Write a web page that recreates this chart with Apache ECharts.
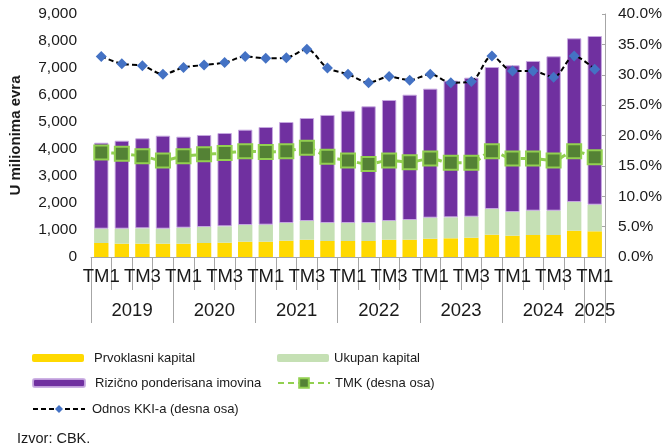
<!DOCTYPE html>
<html>
<head>
<meta charset="utf-8">
<script src="https://cdn.jsdelivr.net/npm/echarts@6/dist/echarts.min.js"></script>
<style>
  html, body { margin: 0; padding: 0; background: #fff; }
  #chart { width: 670px; height: 446px; }
</style>
</head>
<body>
<div id="chart"></div>
<script>
// Quarters 2019 TM1 .. 2025 TM1
const years = ['2019', '2020', '2021', '2022', '2023', '2024', '2025'];
const quartersPerYear = [4, 4, 4, 4, 4, 4, 1];
const quarterNames = ['TM1', 'TM2', 'TM3', 'TM4'];

// Stacked bar segments (millions of euro)
const prvoklasniKapital = [519, 493, 493, 493, 493, 519, 530, 567, 567, 604, 641, 593, 593,
  593, 641, 641, 678, 693, 715, 826, 789, 815, 815, 974, 952];
const ukupanKapital = [530, 556, 569, 556, 593, 592, 606, 618, 631, 655, 692, 666, 666,
  666, 692, 729, 779, 776, 779, 952, 878, 901, 901, 1063, 986];
const rizicnoPonderisana = [3184, 3259, 3334, 3445, 3371, 3408, 3457, 3531, 3617, 3741, 3815, 4001, 4161,
  4321, 4482, 4642, 4778, 5062, 5148, 5259, 5433, 5544, 5717, 6063, 6247];

// Ratios on the right axis (%)
const tmk = [17.2, 17.0, 16.6, 15.9, 16.6, 16.9, 17.1, 17.4, 17.3, 17.4, 18.0, 16.5, 15.9,
  15.3, 15.9, 15.6, 16.2, 15.5, 15.5, 17.4, 16.2, 16.2, 15.9, 17.4, 16.4];
const odnosKKI = [33.0, 31.8, 31.5, 30.1, 31.2, 31.6, 32.0, 33.0, 32.7, 32.8, 34.2, 31.1, 30.1,
  28.7, 29.7, 29.1, 30.1, 28.7, 28.9, 33.1, 30.6, 30.6, 29.6, 33.1, 30.9];

// Category labels built from the year/quarter lists
const categories = [];
quartersPerYear.forEach(n => { for (let q = 0; q < n; q++) categories.push(quarterNames[q]); });

// Year boundaries and label centres along a 0..N value scale
const yearBounds = [0];
quartersPerYear.forEach(n => yearBounds.push(yearBounds[yearBounds.length - 1] + n));
const yearCentres = years.map((y, i) => (yearBounds[i] + yearBounds[i + 1]) / 2);

const axisGray = '#a6a6a6';
const txt = '#1a1a1a';
const base = 'Liberation Sans, Arial, sans-serif';

const chart = echarts.init(document.getElementById('chart'));

function legendAt(name, left, centerY, w, h, textGap) {
  return {
    data: [name], left: left, top: centerY - 9, padding: 0,
    itemWidth: w, itemHeight: h, itemGap: 0,
    textStyle: { fontFamily: base, fontSize: 13, color: txt, lineHeight: 18, padding: [0, 0, 0, textGap] }
  };
}

chart.setOption({
  animation: false,
  textStyle: { fontFamily: base },
  grid: { left: 86, right: 65, top: 14, bottom: 189, containLabel: false },
  legend: [
    legendAt('Prvoklasni kapital', 32, 358, 52, 8, 5),
    legendAt('Ukupan kapital', 277, 358, 52, 8, 0),
    legendAt('Rizično ponderisana imovina', 32, 383, 52, 8, 5),
    legendAt('TMK (desna osa)', 277, 383, 52, 12, 0),
    legendAt('Odnos KKI-a (desna osa)', 32, 409, 52, 10, 2)
  ],
  xAxis: [
    {
      type: 'category', data: categories, boundaryGap: true, position: 'bottom',
      axisLine: { show: true, lineStyle: { color: axisGray, width: 1 } },
      axisTick: { show: true, interval: 0, length: 33, lineStyle: { color: axisGray } },
      axisLabel: { interval: 1, margin: 10, fontSize: 18.5, color: txt, fontFamily: base }
    },
    {
      type: 'value', min: 0, max: yearBounds[yearBounds.length - 1], position: 'bottom',
      axisLine: { show: false },
      splitLine: { show: false },
      axisTick: { show: true, length: 66, customValues: yearBounds, lineStyle: { color: axisGray } },
      axisLabel: {
        customValues: yearCentres, margin: 44, fontSize: 18.5, color: txt, fontFamily: base,
        formatter: v => years[yearCentres.indexOf(v)] || ''
      }
    }
  ],
  yAxis: [
    {
      type: 'value', min: 0, max: 9000, interval: 1000,
      name: 'U milionima evra', nameLocation: 'middle', nameGap: 68, nameRotate: 90,
      nameTextStyle: { fontWeight: 'bold', fontSize: 15, color: txt, fontFamily: base },
      axisLine: { show: false }, axisTick: { show: false }, splitLine: { show: false },
      axisLabel: { margin: 14, fontSize: 15.5, color: txt, fontFamily: base,
        formatter: v => v.toLocaleString('en-US') }
    },
    {
      type: 'value', min: 0, max: 40, interval: 5, position: 'right',
      axisLine: { show: true, lineStyle: { color: axisGray } },
      axisTick: { show: true, inside: true, length: 3, lineStyle: { color: axisGray } },
      splitLine: { show: false },
      axisLabel: { margin: 13, fontSize: 15.5, color: txt, fontFamily: base,
        formatter: v => v.toFixed(1) + '%' }
    }
  ],
  series: [
    {
      name: 'Prvoklasni kapital', type: 'bar', stack: 'k', data: prvoklasniKapital,
      barCategoryGap: '30%', itemStyle: { color: '#FFD900' }
    },
    {
      name: 'Ukupan kapital', type: 'bar', stack: 'k', data: ukupanKapital,
      itemStyle: { color: '#C5E0B4' }
    },
    {
      name: 'Rizično ponderisana imovina', type: 'bar', stack: 'k', data: rizicnoPonderisana,
      itemStyle: { color: '#7030A0', borderColor: 'rgba(200,170,225,0.9)', borderWidth: 1 }
    },
    {
      name: 'TMK (desna osa)', type: 'line', yAxisIndex: 1, data: tmk, smooth: 0.3,
      symbol: 'rect', symbolSize: 14, showAllSymbol: true, z: 5,
      lineStyle: { color: '#92D050', width: 3, type: [6, 4] },
      itemStyle: { color: '#548235', borderColor: '#92D050', borderWidth: 2 }
    },
    {
      name: 'Odnos KKI-a (desna osa)', type: 'line', yAxisIndex: 1, data: odnosKKI, smooth: 0.3,
      symbol: 'diamond', symbolSize: 11, showAllSymbol: true, z: 6,
      lineStyle: { color: '#000', width: 2, type: [5, 3] },
      itemStyle: { color: '#4472C4', borderWidth: 0 }
    }
  ],
  graphic: [
    { type: 'text', left: 17, top: 431,
      style: { text: 'Izvor: CBK.', fontSize: 14.5, fontFamily: base, fill: txt } }
  ]
});
</script>
</body>
</html>
